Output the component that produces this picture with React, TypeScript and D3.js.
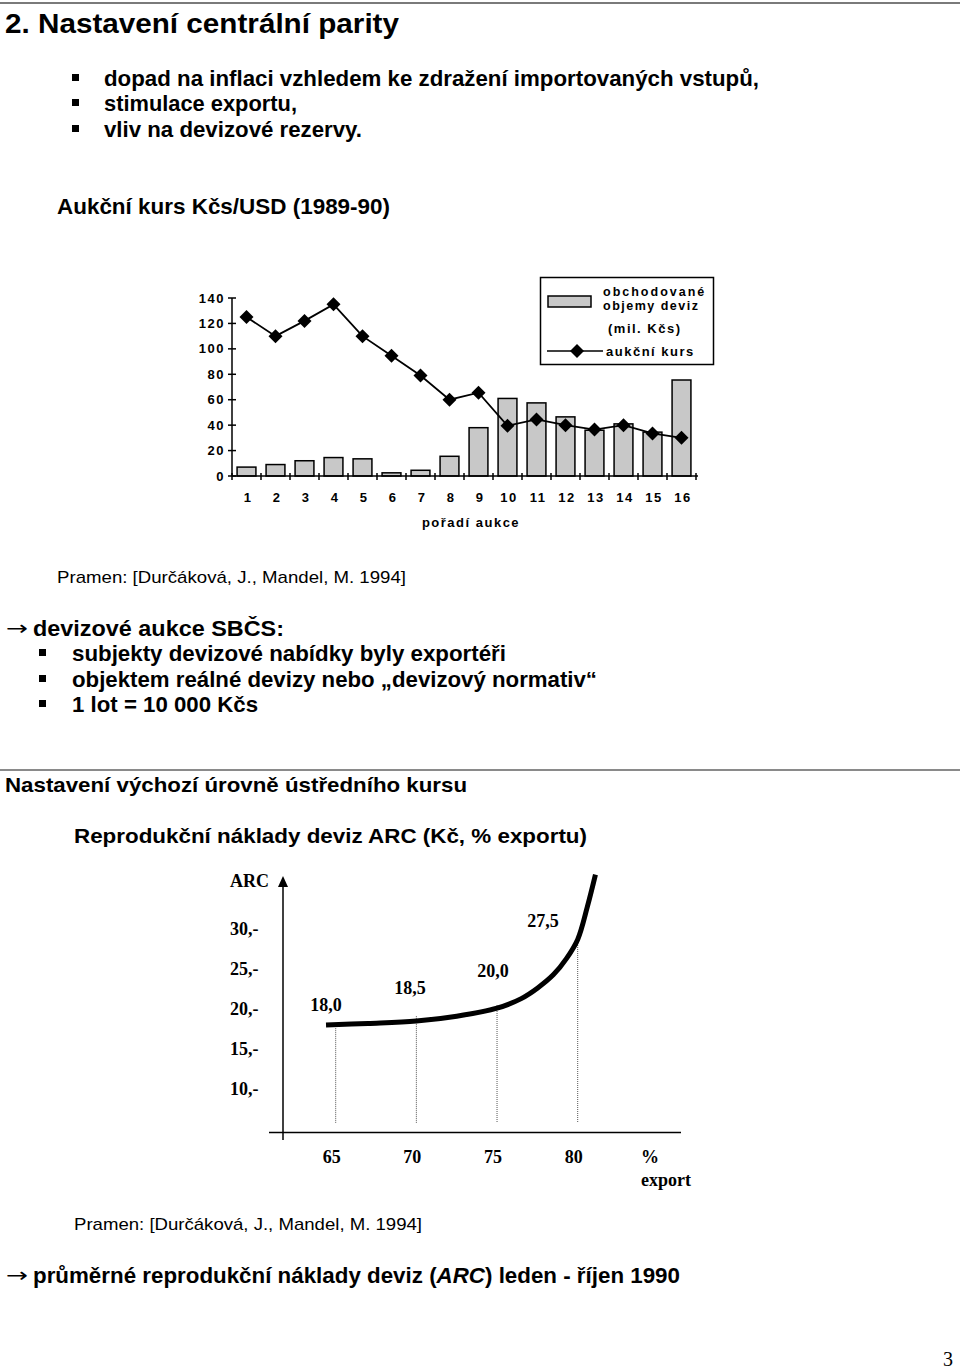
import React from "react";
import * as d3 from "d3";

// ---------- Chart 1 data: Aukční kurs Kčs/USD (1989-90) ----------
const auctions = [1, 2, 3, 4, 5, 6, 7, 8, 9, 10, 11, 12, 13, 14, 15, 16];
const tradedVolumes = [7, 9, 12, 14.5, 13.5, 2.5, 4.5, 15.5, 38, 61, 57.5, 46.5, 36, 41, 34.5, 75.5];
const auctionRates = [125, 110, 122, 135, 110, 94.5, 79, 60, 65.5, 39.5, 44.5, 40, 36.5, 40, 33.5, 30];
const yTicks1 = [0, 20, 40, 60, 80, 100, 120, 140];

// ---------- Chart 2 data: Reprodukční náklady deviz ARC ----------
const curveExport = [64.4, 67, 70, 72.5, 75, 76.5, 77.5, 78.5, 79.3, 80, 80.6, 81.1];
const curveArc = [18.0, 18.2, 18.5, 19.1, 20.1, 21.3, 22.6, 24.3, 26.3, 28.7, 32.8, 36.8];
const dropExport = [65, 70, 75, 80];
const dropArc = [17.6, 19.1, 20.5, 29.0];
const annotText = ["18,0", "18,5", "20,0", "27,5"];
const annotExport = [64.4, 69.6, 74.75, 77.85];
const annotArc = [19.75, 21.9, 24.0, 30.25];
const yTicks2 = [30, 25, 20, 15, 10];
const xTicks2 = [65, 70, 75, 80];

const SANS = "'Liberation Sans', Arial, Helvetica, sans-serif";
const SERIF = "'Liberation Serif', 'Times New Roman', serif";

type TProps = {
  x: number;
  y: number;
  w: number;
  size: number;
  bold?: boolean;
  children: React.ReactNode;
};
const Txt = ({ x, y, w, size, bold = true, children }: TProps) => (
  <text
    x={x}
    y={y}
    fontFamily={SANS}
    fontWeight={bold ? 700 : 400}
    fontSize={size}
    textLength={w}
    lengthAdjust="spacingAndGlyphs"
  >
    {children}
  </text>
);

export default function App() {
  // chart 1 scales
  const x1 = d3
    .scaleBand<number>()
    .domain(auctions)
    .range([232, 696])
    .paddingInner(0.35)
    .paddingOuter(0.175);
  const y1 = d3.scaleLinear().domain([0, 140]).range([476, 298]);
  const cx1 = (a: number) => (x1(a) as number) + x1.bandwidth() / 2;
  const lineGen = d3
    .line<number>()
    .x((_, i) => cx1(auctions[i]))
    .y((d) => y1(d));
  const diamond = (cx: number, cy: number, r: number) =>
    `M${cx},${cy - r}L${cx + r},${cy}L${cx},${cy + r}L${cx - r},${cy}Z`;
  const step = x1.step();

  // chart 2 scales
  const x2 = d3.scaleLinear().domain([65, 80]).range([335.7, 577.7]);
  const y2 = d3.scaleLinear().domain([10, 30]).range([1089, 929]);
  const curveGen = d3
    .line<number>()
    .x((_, i) => x2(curveExport[i]))
    .y((d) => y2(d))
    .curve(d3.curveCatmullRom.alpha(0.5));

  const chartText1 = {
    fontFamily: SANS,
    fontWeight: 700,
    fontSize: 13,
    letterSpacing: 1.5,
  } as const;

  const bullet = (x: number, baseline: number) => (
    <rect x={x} y={baseline - 12} width={7} height={7} fill="#000" />
  );

  const arrow = (y: number) => (
    <text
      x={6}
      y={y}
      fontFamily="'DejaVu Sans', sans-serif"
      fontSize={20}
      textLength={22}
      lengthAdjust="spacingAndGlyphs"
    >
      →
    </text>
  );

  return (
    <svg
      width={960}
      height={1372}
      style={{ position: "absolute", left: 0, top: 0, background: "#fff" }}
    >
      <rect x={0} y={0} width={960} height={1372} fill="#fff" />
      {/* top rule */}
      <line x1={0} x2={960} y1={3} y2={3} stroke="#7a7a7a" strokeWidth={2} />
      <Txt x={5} y={33} w={394} size={27}>
        2. Nastavení centrální parity
      </Txt>

      {/* bullets */}
      {(
        [
          ["dopad na inflaci vzhledem ke zdražení importovaných vstupů,", 86, 655],
          ["stimulace exportu,", 111, 193],
          ["vliv na devizové rezervy.", 137, 258],
        ] as [string, number, number][]
      ).map(([t, b, w]) => (
        <g key={t}>
          {bullet(72, b)}
          <Txt x={104} y={b} w={w} size={21.5}>
            {t}
          </Txt>
        </g>
      ))}

      <Txt x={57} y={214} w={333} size={21.5}>
        Aukční kurs Kčs/USD (1989-90)
      </Txt>

      {/* ---------- Chart 1 ---------- */}
      <g>
        {tradedVolumes.map((v, i) => (
          <rect
            key={i}
            x={x1(auctions[i])}
            y={y1(v)}
            width={x1.bandwidth()}
            height={y1(0) - y1(v)}
            fill="#c8c8c8"
            stroke="#000"
            strokeWidth={1.5}
          />
        ))}
        {/* axes */}
        <line x1={232} x2={232} y1={y1(140)} y2={y1(0)} stroke="#000" strokeWidth={1.5} />
        <line x1={232} x2={698} y1={y1(0)} y2={y1(0)} stroke="#000" strokeWidth={1.5} />
        {yTicks1.map((t) => (
          <g key={t}>
            <line x1={228} x2={236} y1={y1(t)} y2={y1(t)} stroke="#000" strokeWidth={1.5} />
            <text x={225} y={y1(t) + 4.5} textAnchor="end" {...chartText1}>
              {t}
            </text>
          </g>
        ))}
        {d3.range(auctions.length + 1).map((k) => (
          <line
            key={k}
            x1={232 + k * step}
            x2={232 + k * step}
            y1={y1(0) - 3}
            y2={y1(0) + 4}
            stroke="#000"
            strokeWidth={1.5}
          />
        ))}
        {auctions.map((a) => (
          <text key={a} x={cx1(a) + 1.5} y={502} textAnchor="middle" {...chartText1}>
            {a}
          </text>
        ))}
        <text x={471} y={527} textAnchor="middle" {...chartText1}>
          pořadí aukce
        </text>
        {/* line */}
        <path d={lineGen(auctionRates) || ""} fill="none" stroke="#000" strokeWidth={1.8} />
        {auctionRates.map((v, i) => (
          <path key={i} d={diamond(cx1(auctions[i]), y1(v), 7)} fill="#000" />
        ))}
        {/* legend */}
        <rect x={540.5} y={277.5} width={173} height={87} fill="#fff" stroke="#000" strokeWidth={1.5} />
        <rect x={548} y={296} width={43} height={11} fill="#c8c8c8" stroke="#000" strokeWidth={1.5} />
        <text x={603} y={296} {...chartText1} fontSize={12.5} letterSpacing={2}>
          obchodované
        </text>
        <text x={603} y={310} {...chartText1} fontSize={12.5} letterSpacing={1.5}>
          objemy deviz
        </text>
        <text x={608} y={333} {...chartText1}>
          (mil. Kčs)
        </text>
        <line x1={547} x2={603} y1={351} y2={351} stroke="#000" strokeWidth={1.5} />
        <path d={diamond(577, 351, 7)} fill="#000" />
        <text x={606} y={356} {...chartText1}>
          aukční kurs
        </text>
      </g>

      <Txt x={57} y={583} w={349} size={17} bold={false}>
        Pramen: [Durčáková, J., Mandel, M. 1994]
      </Txt>

      {arrow(635)}
      <Txt x={33} y={636} w={251} size={21.5}>
        devizové aukce SBČS:
      </Txt>
      {(
        [
          ["subjekty devizové nabídky byly exportéři", 661, 434],
          ["objektem reálné devizy nebo „devizový normativ“", 687, 525],
          ["1 lot = 10 000 Kčs", 712, 186],
        ] as [string, number, number][]
      ).map(([t, b, w]) => (
        <g key={t}>
          {bullet(39, b)}
          <Txt x={72} y={b} w={w} size={21.5}>
            {t}
          </Txt>
        </g>
      ))}

      <line x1={0} x2={960} y1={770} y2={770} stroke="#8a8a8a" strokeWidth={2} />
      <Txt x={5} y={792} w={462} size={21}>
        Nastavení výchozí úrovně ústředního kursu
      </Txt>
      <Txt x={74} y={843} w={513} size={21}>
        Reprodukční náklady deviz ARC (Kč, % exportu)
      </Txt>

      {/* ---------- Chart 2 ---------- */}
      <g>
        <line x1={283} x2={283} y1={884} y2={1140} stroke="#000" strokeWidth={1.5} />
        <path d="M283,876L288,887L278,887Z" fill="#000" />
        <line x1={269} x2={681} y1={1132.5} y2={1132.5} stroke="#000" strokeWidth={1.5} />
        <text x={230} y={887} fontFamily={SERIF} fontWeight={700} fontSize={18}>
          ARC
        </text>
        {yTicks2.map((t) => (
          <text key={t} x={230} y={y2(t) + 6} fontFamily={SERIF} fontWeight={700} fontSize={18}>
            {`${t},-`}
          </text>
        ))}
        {dropExport.map((v, i) => (
          <line
            key={v}
            x1={x2(v)}
            x2={x2(v)}
            y1={y2(dropArc[i])}
            y2={1123}
            stroke="#555"
            strokeWidth={1}
            strokeDasharray="1,1"
          />
        ))}
        <path d={curveGen(curveArc) || ""} fill="none" stroke="#000" strokeWidth={5} />
        {annotText.map((t, i) => (
          <text
            key={t}
            x={x2(annotExport[i])}
            y={y2(annotArc[i])}
            textAnchor="middle"
            fontFamily={SERIF}
            fontWeight={700}
            fontSize={18}
          >
            {t}
          </text>
        ))}
        {xTicks2.map((t) => (
          <text
            key={t}
            x={x2(t) - 4}
            y={1163}
            textAnchor="middle"
            fontFamily={SERIF}
            fontWeight={700}
            fontSize={18}
          >
            {t}
          </text>
        ))}
        <text x={641} y={1163} fontFamily={SERIF} fontWeight={700} fontSize={18}>
          %
        </text>
        <text x={641} y={1186} fontFamily={SERIF} fontWeight={700} fontSize={18}>
          export
        </text>
      </g>

      <Txt x={74} y={1230} w={348} size={17} bold={false}>
        Pramen: [Durčáková, J., Mandel, M. 1994]
      </Txt>
      {arrow(1282)}
      <Txt x={33} y={1283} w={647} size={21.5}>
        průměrné reprodukční náklady deviz (<tspan fontStyle="italic">ARC</tspan>) leden - říjen 1990
      </Txt>
      <text x={943} y={1366} fontFamily={SERIF} fontSize={20}>
        3
      </text>
    </svg>
  );
}
